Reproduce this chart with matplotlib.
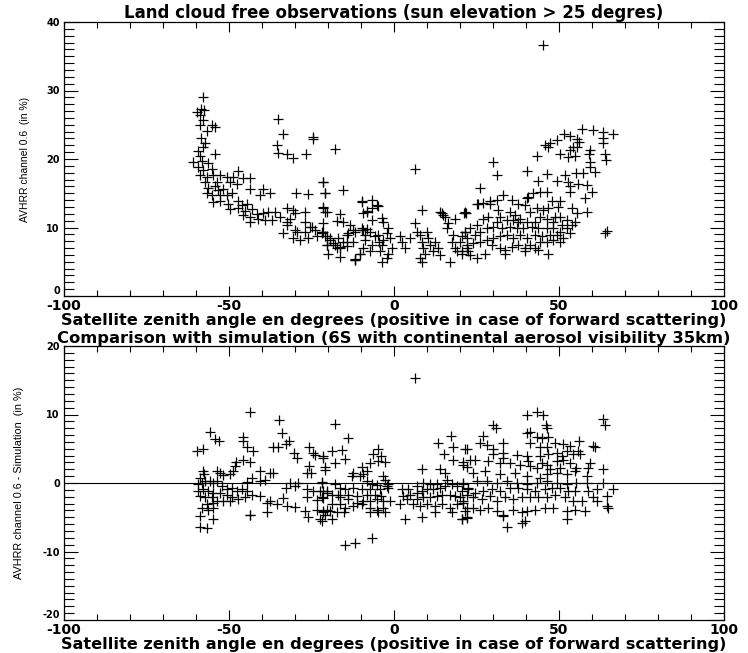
import numpy as np
import matplotlib
matplotlib.use("Agg")
import matplotlib.pyplot as plt
from matplotlib.ticker import MultipleLocator

# --- top panel: measured reflectance vs satellite zenith angle ---
top_angle = [
    -57.8, -58.6, -57.6, -59.8, -58.8, -57.8, -58.8, -55.2, -54.2, -56.8, -58.6, -57.3, -57.8,
    -35.1, -33.5, -24.6, -24.4, -35.5, -35.1, -32.5, -30.5, -26.8,
    -59.4, -58.8, -54.2, -60.8, -58.3, -56.3, -59.3, -57.8, -55.2,
    -47.2, -48.7, -45.7, -43.6, -58.8, -56.8, -54.8, -52.7, -50.7,
    -57.3, -53.7, -49.7, -47.7, -56.3, -54.2, -53.2, -51.7,
    -43.6, -39.6, -37.6, -40.6, -56.8, -55.2, -52.7, -50.7, -49.2,
    -54.8, -52.7, -50.2, -47.2, -46.2, -44.6, -49.7, -47.2, -45.2, -43.1,
    -45.7, -43.6, -41.6, -39.6, -38.1, -36.1, -43.6, -41.1, -39.1, -37.1, -34.5,
    -32.5, -30.5, -27.0, -30.0, -31.5, -32.5, -21.4, -29.8, -26.0, -20.9, -21.4, -20.4,
    -29.5, -27.0, -25.0, -23.4, -26.0, -21.9, -20.4, -20.4,
    -17.9, 6.4, -21.4, -20.9, -15.5, -21.4, -20.9, -16.4, -9.8, -6.8, -4.7, -8.3, -9.3,
    -3.7, -3.2, -6.8, -21.4, -17.4, -15.4, -13.3, -9.8, -11.8, -8.3,
    -21.4, -19.4, -16.9, -14.3, -15.4, -18.4, -20.4, -16.4, -14.3, -12.3,
    -9.3, -7.3, -5.8, -4.7, -4.4, -3.2, -3.7, -2.2, -1.7, -1.2,
    -11.8, -10.3, -9.3, -7.3, -6.8, -4.2, -3.7, -2.2, -1.7, -0.7,
    1.8, 2.3, 3.3, 4.8, 6.4, 6.9, 7.9, 8.4, 8.9, 9.4, 7.9, 8.4, 9.9, 10.4, 10.9, 12.4, 11.9,
    13.4, 13.9, 14.5, 15.5, 16.0, 16.5, 17.5, 18.0, 17.0, 18.5, 19.0, 20.0, 20.5, 21.2, 21.5,
    22.0, 22.5,
    56.9, 60.2, 63.4, 66.3, 51.5, 53.3, 55.4, 56.2, 55.4, 54.2, 49.3, 47.3, 45.8, 46.8,
    63.2, 63.2, 59.4, 59.2, 63.9, 64.2, 50.3, 52.8, 54.8, 53.3,
    43.2, 30.1, 31.3, 40.2, 46.3, 43.7, 49.3, 51.8, 52.8, 55.2, 57.2, 59.4, 59.4, 60.9,
    53.3, 53.3, 55.9, 58.4, 59.9, 57.9, 58.4, 55.4, 53.8, 50.3, 49.8, 47.8, 46.3, 44.2,
    42.2, 40.7, 40.2, 39.7, 33.1, 35.7, 37.7, 29.1, 25.5, 26.1, 21.8,
    31.6, 32.1, 35.2, 36.7, 38.2, 41.2, 43.2, 45.3, 46.8, 48.8, 50.3, 52.3, 54.8, 53.8,
    50.8, 48.3, 46.3, 44.2, 42.7, 40.2, 37.7, 36.2, 34.1, 31.1, 28.6, 27.1, 25.1, 23.0,
    21.5, 20.5, 22.0, 24.5, 26.1, 28.1, 30.1, 32.6, 35.2, 37.2, 39.2, 41.7, 43.7, 46.3,
    48.3, 50.3, 52.3, 53.3, 51.3, 49.3, 47.3, 44.7, 42.7, 40.2, 38.2, 36.2, 34.1, 32.1,
    30.1, 28.1, 26.1, 24.0, 22.0, 20.5, 23.0, 25.1, 27.6, 29.6, 32.1, 33.6, 35.7, 37.7,
    39.7, 41.2, 42.7, 44.2, 46.3, 48.3, 50.3, 39.7, 43.7, 46.8, 33.6, 64.4, 63.9,
    8.4, 13.9, 14.9, 18.5, 21.5, 25.0, 27.0, 29.1, 31.1,
    -9.8, -8.3, -6.8, -5.3, -9.8, -8.8, -11.8, -10.3, -8.8,
    -23.9, -21.9, -20.9, -19.4, -17.9, -16.4, -14.3, -13.8, -12.3, -19.9, -17.4, -16.4,
    -11.8, -25.5, -27.0, -30.0, -30.5, -28.5, -33.6, -32.5,
    45.3,
]
top_refl = [
    29.1, 27.3, 27.2, 26.9, 26.4, 25.7, 24.9, 24.9, 24.6, 24.1, 23.0, 22.3, 21.8,
    25.9, 23.6, 23.2, 22.9, 22.1, 20.9, 20.8, 20.2, 20.8,
    21.1, 20.5, 20.7, 19.6, 19.7, 19.4, 18.9, 18.4, 18.5,
    18.2, 17.4, 17.2, 17.2, 17.7, 17.4, 17.7, 17.6, 17.4,
    16.7, 16.7, 16.7, 16.4, 15.7, 16.0, 15.5, 15.6,
    15.6, 15.6, 15.1, 14.7, 15.1, 14.8, 14.7, 14.7, 15.0,
    13.7, 13.8, 13.5, 13.8, 13.3, 13.5, 12.7, 12.8, 12.4, 12.7,
    11.8, 11.6, 11.9, 12.1, 12.2, 12.3, 10.8, 11.3, 11.1, 11.1, 11.6,
    12.8, 12.6, 12.3, 12.1, 11.3, 10.8, 16.7, 15.0, 14.9, 15.0, 12.9, 12.3,
    9.4, 9.4, 10.1, 8.7, 8.4, 9.4, 8.7, 7.5,
    21.4, 18.6, 16.7, 15.0, 15.5, 13.0, 12.2, 11.9, 13.7, 14.0, 13.2, 12.4, 12.1,
    11.4, 10.8, 11.1, 10.6, 10.9, 10.8, 10.4, 10.0, 9.4, 9.8,
    9.4, 8.4, 8.4, 8.9, 7.9, 7.7, 7.4, 7.0, 7.3, 7.9,
    9.6, 9.4, 8.7, 8.9, 7.9, 8.2, 7.4, 9.2, 9.9, 8.4,
    5.4, 6.2, 7.0, 6.5, 7.4, 6.5, 5.0, 5.5, 6.2, 7.0,
    8.7, 7.9, 7.0, 8.4, 10.6, 9.4, 8.9, 7.9, 7.0, 6.2, 5.5, 5.0, 9.4, 8.4, 7.4, 7.9, 6.5,
    7.0, 6.0, 12.1, 11.6, 9.9, 10.6, 7.9, 8.9, 5.0, 7.0, 6.5, 7.9, 6.2, 12.1, 9.4,
    7.4, 6.5,
    24.4, 24.2, 23.9, 23.6, 23.6, 23.3, 22.9, 22.5, 21.8, 21.7, 22.8, 22.3, 22.0, 21.8,
    23.0, 22.3, 21.3, 20.8, 20.8, 19.9, 20.8, 20.3, 20.5, 21.3,
    20.5, 19.5, 17.6, 18.2, 17.8, 16.8, 16.8, 17.7, 16.7, 17.9, 17.9, 19.6, 18.9, 18.1,
    16.0, 15.2, 16.3, 16.2, 15.2, 14.3, 12.3, 12.1, 12.8, 13.8, 13.0, 13.8, 15.2, 15.2,
    15.0, 14.5, 14.3, 13.3, 14.7, 14.0, 13.5, 13.5, 13.5, 15.8, 12.1,
    12.6, 11.6, 12.3, 11.8, 11.3, 12.3, 12.8, 12.6, 12.8, 11.6, 11.6, 11.1, 10.8, 10.4,
    10.4, 10.8, 11.3, 11.6, 10.8, 10.8, 10.8, 11.1, 11.1, 10.8, 11.6, 11.3, 10.4, 9.9,
    9.4, 8.7, 8.4, 8.9, 9.4, 9.9, 10.1, 9.9, 10.1, 9.9, 9.9, 10.1, 9.9, 9.9,
    9.9, 9.4, 9.9, 9.2, 8.4, 8.9, 8.9, 8.7, 8.9, 8.4, 8.9, 8.4, 8.9, 8.7,
    8.4, 8.2, 7.9, 7.7, 7.0, 6.5, 6.0, 5.6, 6.2, 7.4, 7.0, 6.7, 7.2, 7.4,
    7.0, 7.4, 7.0, 7.9, 7.9, 8.2, 7.9, 6.5, 6.7, 6.2, 6.2, 9.5, 9.2,
    12.6, 12.2, 11.8, 11.3, 12.2, 13.4, 13.6, 13.8, 14.0,
    13.8, 12.3, 12.8, 13.3, 9.6, 8.2, 5.3, 6.2, 8.9,
    9.6, 9.2, 8.7, 8.2, 7.4, 7.2, 7.9, 9.2, 9.6, 6.2, 7.0, 5.7,
    5.3, 10.1, 10.8, 9.6, 8.4, 8.2, 9.2, 10.4,
    36.7,
]

# --- bottom panel: measurement minus 6S simulation ---
bot_angle = [
    -43.6, -34.8, -33.8, -55.8, -45.7, -45.7, -54.2, -52.9, -59.8, -57.8, -44.6, -42.8,
    -36.6, -35.1, -32.6, -31.8, -30.3, -29.3, -25.7, -24.6, -23.9, -21.6,
    -25.8, -26.3, -25.3, -20.9,
    -47.9, -45.7, -43.6, -48.2, -48.7, -49.7, -51.7, -52.7, -53.7, -57.8, -57.6, -58.8,
    -40.6, -37.6, -36.6, -43.1, -40.6, -39.1, -44.6, -31.5, -30.0, -29.0, -32.6,
    -21.9, -20.4, -22.4, -24.4, -26.3, -26.3, -23.4, -21.4,
    -27.0, -26.0, -23.4, -21.4, -20.4, -21.9,
    -38.6, -43.6, -35.5, -32.5, -30.0, -33.5, -37.6, -38.6, -40.6,
    -59.3, -58.3, -57.3, -55.8, -54.8, -53.7, -52.2, -50.7, -49.2, -47.7, -46.2, -44.6,
    -43.1, -45.1, -47.2, -49.2, -50.7, -52.7, -54.8, -56.3, -57.8, -59.3, -58.8, -57.3,
    -55.2, -53.7, -51.7, -49.7, -54.8, -56.8, -58.3, -56.3, -54.8, -58.8, -54.8, -43.6,
    -58.8, -56.8,
    6.4, -17.9, -13.8, -18.9, -15.7, -14.8, -17.9, -21.4, -20.9,
    -6.3, -4.8, -3.8, -7.3, -4.8, -2.7, -9.8, -12.3, -9.3, -8.3, -10.3, -12.8,
    -3.2, -2.7, -8.3, -6.8, -5.3, -2.2, -1.7,
    -21.9, -17.9, -16.4, -14.8, -12.3, -9.8, -7.3, -4.2, -1.7, -21.4, -20.4, -18.9, -16.9,
    -13.8, -11.3, -8.3, -5.8, -3.8, -16.4, -13.8, -11.3, -9.3, -7.3, -5.3, -3.2, -1.2,
    -21.9, -18.9, -16.4, -14.8, -12.3, -9.8, -7.3, -5.3, -3.2, -21.4, -19.4, -17.4,
    -15.3, -7.3, -4.8, -2.7, -22.4, -18.9, -20.9,
    -14.8, -11.8, -6.8,
    8.4, 13.4, 17.2, 18.0, 15.2, 18.0, 21.5, 21.0, 22.0, 13.9, 15.5, 16.0,
    8.9, 10.9, 12.9, 6.9, 4.3, 2.3, 2.8, 4.8, 6.9, 8.4, 9.9, 11.9, 13.9, 15.5, 17.5,
    19.0, 21.0, 22.5, 6.9, 8.9, 10.9, 12.9, 14.5, 17.0, 18.5, 20.0, 22.0, 3.8, 1.8,
    5.9, 7.9, 9.9, 12.4, 14.5, 17.0, 19.0, 21.0, 22.0, 3.3, 8.4, 12.4, 17.5, 20.5, 22.0,
    40.2, 43.2, 45.3, 63.2, 63.9, 30.1, 30.9, 46.1, 46.5,
    40.2, 41.2, 27.1, 43.2, 44.7, 46.8,
    26.1, 28.1, 32.9, 41.2, 44.2, 46.5, 48.8, 51.3, 53.3, 56.2, 60.4, 60.9,
    22.0, 30.1, 30.1, 33.1, 33.1, 37.2, 40.2, 40.7, 44.2, 46.8, 49.3, 50.8, 52.3, 54.3,
    55.8, 56.4,
    21.0, 23.0, 24.5, 28.6, 32.1, 35.2, 38.2, 41.2, 44.7, 46.3, 49.3, 51.3, 53.3, 55.3,
    59.4, 58.9, 63.2, 50.3, 47.3, 43.2,
    24.0, 27.6, 32.1, 36.7, 40.2, 44.2, 46.3, 49.3, 52.3, 54.8, 58.4,
    21.0, 25.1, 28.1, 31.1, 34.1, 37.2, 40.2, 43.2, 46.3, 49.3, 52.3, 55.3, 58.4, 63.2,
    66.5,
    20.5, 22.5, 24.5, 27.1, 29.6, 32.1, 35.2, 37.7, 40.2, 42.7, 45.8, 47.8, 50.3, 52.8,
    54.8, 58.9, 61.4, 64.4,
    21.0, 24.0, 26.6, 29.1, 31.1, 33.6, 36.2, 38.7, 41.2, 43.7, 46.3, 48.8, 51.8, 54.3,
    56.9, 60.4, 61.4, 64.4, 64.9,
    21.5, 24.0, 26.1, 28.6, 31.1, 33.1, 36.2, 38.7, 40.2, 42.7, 45.8, 48.3, 52.3, 54.8,
    57.9,
    20.5, 22.0, 33.1, 39.7, 52.3, 34.1, 38.7,
]
bot_diff = [
    10.3, 9.2, 7.3, 7.4, 6.7, 6.1, 6.4, 6.1, 4.7, 5.0, 5.3, 4.7,
    5.2, 5.3, 5.7, 6.1, 4.4, 3.7, 5.3, 4.4, 4.1, 3.7,
    2.5, 1.5, 1.4, 1.9,
    3.0, 3.4, 3.1, 2.5, 1.8, 1.3, 1.1, 1.5, 1.8, 1.8, 1.3, 0.8,
    1.8, 1.5, 1.5, 0.8, 0.3, 0.5, 0.1, 0.05, -0.4, 0.05, -0.7,
    0.2, -1.2, -1.2, -1.2, -0.9, -2.1, -2.5, -2.2,
    -4.1, -5.0, -3.9, -4.3, -3.9, -5.5,
    -4.3, -4.6, -3.1, -3.4, -3.5, -2.2, -2.6, -2.9, -1.9,
    -0.2, 0.05, 0.3, 0.3, 0.05, 0.3, -0.4, -0.9, -0.7, -1.2, -0.9, -1.2,
    -1.7, -2.1, -2.4, -2.1, -1.7, -1.4, -1.4, -1.2, -0.9, -1.2, -1.9, -2.1,
    -2.1, -2.6, -2.6, -2.6, -2.9, -3.1, -3.6, -3.9, -3.6, -4.8, -5.2, -4.7,
    -6.4, -6.6,
    15.4, 8.6, 6.5, 4.6, 4.8, 3.5, 2.9, 4.0, 2.4,
    4.2, 4.9, 3.9, 2.9, 3.2, 3.1, 2.3, 1.5, 1.3, 1.8, 1.0, 1.0,
    1.0, 0.4, 0.3, -0.2, -0.3, -0.4, -0.1,
    0.05, -0.2, -0.7, -0.9, -0.7, -0.9, -0.9, -0.9, -0.7, -1.2, -1.4, -1.7, -1.7,
    -1.7, -1.9, -1.7, -1.7, -1.9, -2.1, -2.4, -2.9, -2.6, -2.6, -2.4, -2.6, -2.6,
    -2.1, -3.1, -3.1, -3.6, -3.4, -3.1, -3.6, -3.9, -3.6, -4.1, -4.1, -4.3,
    -4.3, -4.3, -4.3, -4.3, -5.3, -5.3, -4.6,
    -9.1, -8.8, -8.1,
    2.0, 5.9, 6.9, 5.3, 4.2, 3.3, 4.9, 3.1, 2.3, 2.0, 1.5, 0.5,
    0.05, -0.2, -0.2, -0.4, -0.9, -0.9, -1.9, -1.7, -1.4, -1.2, -0.9, -0.9, -0.7, -0.4,
    -0.2, -0.4, -0.2, -0.7, -2.4, -2.1, -2.1, -1.9, -1.7, -1.7, -1.9, -2.1, -1.7, -2.4,
    -3.1, -3.1, -3.4, -3.1, -3.4, -3.1, -3.6, -3.1, -2.9, -3.6, -5.3, -4.9, -4.2, -4.2,
    -5.3, -4.9,
    10.0, 10.3, 10.0, 9.4, 8.5, 8.5, 8.1, 8.5, 8.1,
    7.3, 7.5, 6.9, 6.7, 6.5, 6.7,
    5.9, 5.5, 5.9, 5.9, 5.2, 5.2, 5.9, 5.7, 5.4, 6.2, 5.4, 5.2,
    4.9, 4.9, 4.2, 4.4, 3.7, 4.1, 4.0, 3.2, 4.0, 4.2, 4.4, 4.0, 4.7, 4.2,
    4.7, 4.2,
    2.7, 3.4, 3.4, 3.2, 2.96, 2.96, 2.7, 2.5, 2.96, 2.7, 3.2, 3.4, 2.96, 2.2,
    2.96, 2.2, 2.0, 2.2, 2.0, 2.2,
    1.5, 1.75, 1.3, 1.4, 1.0, 0.8, 1.3, 1.5, 1.3, 1.75, 1.0,
    0.05, 0.3, 0.3, 0.05, 0.3, 0.05, -0.2, 0.05, 0.3, 0.05, -0.2, 0.05, 0.05, 0.05,
    -0.9,
    -1.2, -0.9, -1.4, -1.2, -0.9, -1.2, -0.7, -0.7, -0.9, -1.2, -0.9, -0.7, -0.7, -1.2,
    -1.2, -1.2, -0.9, -1.9,
    -2.6, -2.1, -2.4, -1.9, -2.6, -2.1, -2.4, -2.1, -2.1, -2.1, -2.1, -1.7, -2.1, -2.6,
    -2.6, -2.1, -2.6, -3.4, -3.6,
    -4.1, -3.6, -3.9, -3.6, -4.1, -4.6, -3.9, -4.3, -4.1, -3.9, -3.6, -3.6, -4.1, -3.9,
    -4.1,
    -5.3, -5.1, -4.8, -5.55, -5.2, -6.4, -5.8,
]

plt.rcParams["axes.unicode_minus"] = False

fig = plt.figure(figsize=(7.48, 6.53), dpi=100)
ax1 = fig.add_axes([64 / 748, 1 - 296 / 653, 660 / 748, 274 / 653])
ax2 = fig.add_axes([64 / 748, 1 - 620 / 653, 660 / 748, 274 / 653])

wide = "DejaVu Sans"
narrow = ["Liberation Sans Narrow", "DejaVu Sans Condensed", "Liberation Sans"]
xlab = "Satellite zenith angle en degrees (positive in case of forward scattering)"

ax1.plot(top_angle, top_refl, "+", color="black", ms=6.5, mew=0.9)
ax2.plot(bot_angle, bot_diff, "+", color="black", ms=6.5, mew=0.9)
ax2.axhline(0, color="black", lw=0.8)

ax1.set_ylim(0, 40)
ax2.set_ylim(-20, 20)
ax1.set_title("Land cloud free observations (sun elevation > 25 degres)",
              fontsize=12, fontweight="bold", family=wide, pad=3)
ax2.set_title("Comparison with simulation (6S with continental aerosol visibility 35km)",
              fontsize=11.8, fontweight="bold", family=wide, pad=2)
ax1.set_ylabel("AVHRR channel 0.6  (in %)", family=narrow, fontsize=7.5, labelpad=12)
ax2.set_ylabel("AVHRR channel 0.6 - Simulation  (in %)", family=narrow, fontsize=7.8, labelpad=13)

for ax in (ax1, ax2):
    ax.set_xlim(-100, 100)
    ax.set_xlabel(xlab, fontsize=11.6, fontweight="bold", family=wide, labelpad=0)
    ax.xaxis.set_major_locator(MultipleLocator(50))
    ax.xaxis.set_minor_locator(MultipleLocator(10))
    ax.yaxis.set_major_locator(MultipleLocator(10))
    ax.yaxis.set_minor_locator(MultipleLocator(1))
    ax.tick_params(which="both", direction="in", top=True, right=True, width=0.8)
    ax.tick_params(axis="x", which="major", length=7, pad=2)
    ax.tick_params(axis="x", which="minor", length=4)
    ax.tick_params(axis="y", which="major", length=10, pad=3)
    ax.tick_params(axis="y", which="minor", length=7)
    for lab in ax.get_xticklabels():
        lab.set_fontfamily(wide)
        lab.set_fontweight("bold")
        lab.set_fontsize(10)
    for lab in ax.get_yticklabels():
        lab.set_fontfamily(wide)
        lab.set_fontweight("bold")
        lab.set_fontsize(7)
    for sp in ax.spines.values():
        sp.set_linewidth(0.9)

# lowest y label sits just above its tick, clear of the x labels
fig.canvas.draw()
for ax in (ax1, ax2):
    ymin = ax.get_ylim()[0]
    for tick in ax.yaxis.get_major_ticks():
        if abs(tick.get_loc() - ymin) < 1e-9:
            tick.label1.set_verticalalignment("bottom")

fig.savefig("out.png", dpi=100)
